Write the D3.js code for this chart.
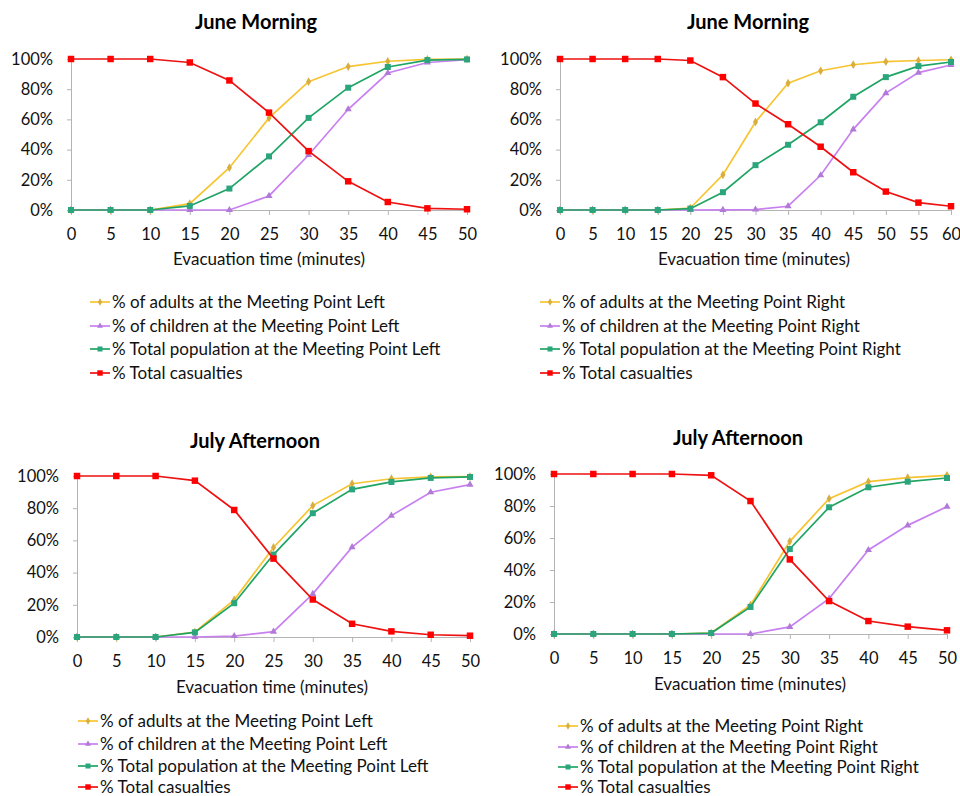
<!DOCTYPE html>
<html>
<head>
<meta charset="utf-8">
<title>Evacuation curves</title>
<script src="https://d3js.org/d3.v7.min.js"></script>
<style>
  body { margin: 0; background: #fff; }
  svg { font-family: Lato, "Open Sans", sans-serif; }
</style>
</head>
<body>
<svg width="960" height="796"></svg>
<script>
// x categories (minutes)
var times50 = [0, 5, 10, 15, 20, 25, 30, 35, 40, 45, 50];
var times60 = [0, 5, 10, 15, 20, 25, 30, 35, 40, 45, 50, 55, 60];
var yTicks = [0, 20, 40, 60, 80, 100];

// June Morning, Meeting Point Left
var juneLeftAdults     = [0, 0, 0, 4.2, 28, 61, 85, 95, 98.5, 99.7, 100];
var juneLeftChildren   = [0, 0, 0, 0, 0, 9.3, 36.4, 66.7, 90.7, 97.7, 99.5];
var juneLeftTotal      = [0, 0, 0, 2.7, 14.2, 35.5, 61, 81, 94.7, 99.3, 99.7];
var juneLeftCasualties = [100, 100, 100, 97.7, 85.8, 64.5, 39, 19, 5.3, 1.1, 0.5];

// June Morning, Meeting Point Right
var juneRightAdults     = [0, 0, 0, 0, 1.3, 23.3, 58.3, 84, 92.2, 96.2, 98.2, 99, 99.5];
var juneRightChildren   = [0, 0, 0, 0, 0, 0.1, 0.3, 2.5, 23, 53.4, 77.4, 91, 96];
var juneRightTotal      = [0, 0, 0, 0, 0.9, 11.8, 29.7, 43.2, 58.1, 75, 88, 95.3, 98];
var juneRightCasualties = [100, 100, 100, 100, 99, 88, 70.5, 56.8, 41.9, 25, 12.2, 4.9, 2.5];

// July Afternoon, Meeting Point Left
var julyLeftAdults     = [0, 0, 0, 3.1, 23.1, 55.6, 81.6, 95.2, 98.3, 99.4, 99.6];
var julyLeftChildren   = [0, 0, 0, 0, 0.6, 3.3, 26.8, 55.8, 75.4, 89.9, 94.6];
var julyLeftTotal      = [0, 0, 0, 2.9, 21, 51.2, 76.9, 91.7, 96.3, 98.8, 99.4];
var julyLeftCasualties = [100, 100, 100, 97.1, 78.9, 48.7, 23.3, 8.2, 3.5, 1.4, 0.8];

// July Afternoon, Meeting Point Right
var julyRightAdults     = [0, 0, 0, 0, 0.6, 18.1, 57.9, 84.6, 95.2, 97.7, 99.2];
var julyRightChildren   = [0, 0, 0, 0, 0, 0, 4.4, 22.1, 52.5, 67.9, 79.6];
var julyRightTotal      = [0, 0, 0, 0, 0.6, 16.9, 53.1, 79.2, 91.7, 95.2, 97.5];
var julyRightCasualties = [100, 100, 100, 100, 99.2, 83.1, 46.6, 20.6, 8.1, 4.6, 2.3];

var legendLeft = [
  "% of adults at the Meeting Point Left",
  "% of children at the Meeting Point Left",
  "% Total population at the Meeting Point Left",
  "% Total casualties"
];
var legendRight = [
  "% of adults at the Meeting Point Right",
  "% of children at the Meeting Point Right",
  "% Total population at the Meeting Point Right",
  "% Total casualties"
];

var xTitle = "Evacuation time (minutes)";

// series styles: adults, children, total, casualties
var styles = [
  { line: "#f7c431", fill: "#d9ae3e", shape: d3.symbolDiamond, size: 22 },
  { line: "#c880f0", fill: "#b27ad8", shape: d3.symbolTriangle, size: 22 },
  { line: "#1fa463", fill: "#2aa57c", shape: d3.symbolSquare, size: 36 },
  { line: "#ee1111", fill: "#ff0000", shape: d3.symbolSquare, size: 42 }
];

var panels = [
  { title: "June Morning", titleX: 256, titleY: 22,
    left: 71, right: 467, top: 59, bottom: 210,
    times: times50, series: [juneLeftAdults, juneLeftChildren, juneLeftTotal, juneLeftCasualties],
    labels: legendLeft, xTitleX: 269, xTitleY: 259,
    legX: 90, legY: [302, 326, 349, 373] },
  { title: "June Morning", titleX: 748, titleY: 22,
    left: 560, right: 951, top: 59, bottom: 210,
    times: times60, series: [juneRightAdults, juneRightChildren, juneRightTotal, juneRightCasualties],
    labels: legendRight, xTitleX: 754, xTitleY: 259,
    legX: 540, legY: [302, 326, 349, 373] },
  { title: "July Afternoon", titleX: 255, titleY: 441,
    left: 77, right: 470, top: 476, bottom: 637,
    times: times50, series: [julyLeftAdults, julyLeftChildren, julyLeftTotal, julyLeftCasualties],
    labels: legendLeft, xTitleX: 272, xTitleY: 687,
    legX: 78, legY: [721, 744, 766, 787] },
  { title: "July Afternoon", titleX: 738, titleY: 438,
    left: 554, right: 947, top: 474, bottom: 634,
    times: times50, series: [julyRightAdults, julyRightChildren, julyRightTotal, julyRightCasualties],
    labels: legendRight, xTitleX: 750, xTitleY: 684,
    legX: 558, legY: [726, 747, 767, 787] }
];

var svg = d3.select("svg");

panels.forEach(function(p) {
  var g = svg.append("g");

  var x = d3.scaleLinear()
    .domain([0, d3.max(p.times)])
    .range([p.left, p.right]);
  var y = d3.scaleLinear()
    .domain([0, 100])
    .range([p.bottom, p.top]);

  g.append("text")
    .attr("x", p.titleX).attr("y", p.titleY)
    .attr("dy", "0.35em")
    .attr("text-anchor", "middle")
    .style("font-weight", "bold")
    .style("font-size", "20px")
    .text(p.title);

  // axes
  var xAxis = g.append("g")
    .attr("transform", "translate(0," + p.bottom + ")")
    .call(d3.axisBottom(x).tickValues(p.times).tickSize(5).tickPadding(13).tickSizeOuter(0));
  var yAxis = g.append("g")
    .attr("transform", "translate(" + p.left + ",0)")
    .call(d3.axisLeft(y).tickValues(yTicks).tickSize(4).tickPadding(14).tickSizeOuter(0)
      .tickFormat(function(d) { return d + "%"; }));

  [xAxis, yAxis].forEach(function(a) {
    a.select(".domain").attr("stroke", "#b4b4b4");
    a.selectAll(".tick line").attr("stroke", "#b4b4b4");
    a.selectAll(".tick text")
      .attr("fill", "#111")
      .style("font-family", "Lato, sans-serif")
      .style("font-size", "16.5px");
  });

  g.append("text")
    .attr("x", p.xTitleX).attr("y", p.xTitleY)
    .attr("dy", "0.35em")
    .attr("text-anchor", "middle")
    .style("font-size", "17px")
    .attr("fill", "#111")
    .text(xTitle);

  // lines + markers
  p.series.forEach(function(vals, i) {
    var st = styles[i];
    var pts = vals.map(function(v, k) { return [p.times[k], v]; });
    g.append("path")
      .datum(pts)
      .attr("fill", "none")
      .attr("stroke", st.line)
      .attr("stroke-width", 1.7)
      .attr("d", d3.line().x(function(d) { return x(d[0]); }).y(function(d) { return y(d[1]); }));
    g.selectAll(".m" + i)
      .data(pts)
      .enter().append("path")
      .attr("class", "m" + i)
      .attr("transform", function(d) { return "translate(" + x(d[0]) + "," + y(d[1]) + ")"; })
      .attr("d", d3.symbol().type(st.shape).size(st.size))
      .attr("fill", st.fill);
  });

  // legend
  var leg = g.selectAll(".leg")
    .data(p.labels)
    .enter().append("g")
    .attr("transform", function(d, i) { return "translate(" + p.legX + "," + p.legY[i] + ")"; });
  leg.append("line")
    .attr("x1", 0).attr("x2", 20)
    .attr("stroke", function(d, i) { return styles[i].line; })
    .attr("stroke-width", 1.7);
  leg.append("path")
    .attr("transform", "translate(10,0)")
    .attr("d", function(d, i) { return d3.symbol().type(styles[i].shape).size(styles[i].size * 0.7)(); })
    .attr("fill", function(d, i) { return styles[i].fill; });
  leg.append("text")
    .attr("x", 22)
    .attr("dy", "0.35em")
    .style("font-size", "17px")
    .attr("fill", "#111")
    .text(function(d) { return d; });
});
</script>
</body>
</html>
